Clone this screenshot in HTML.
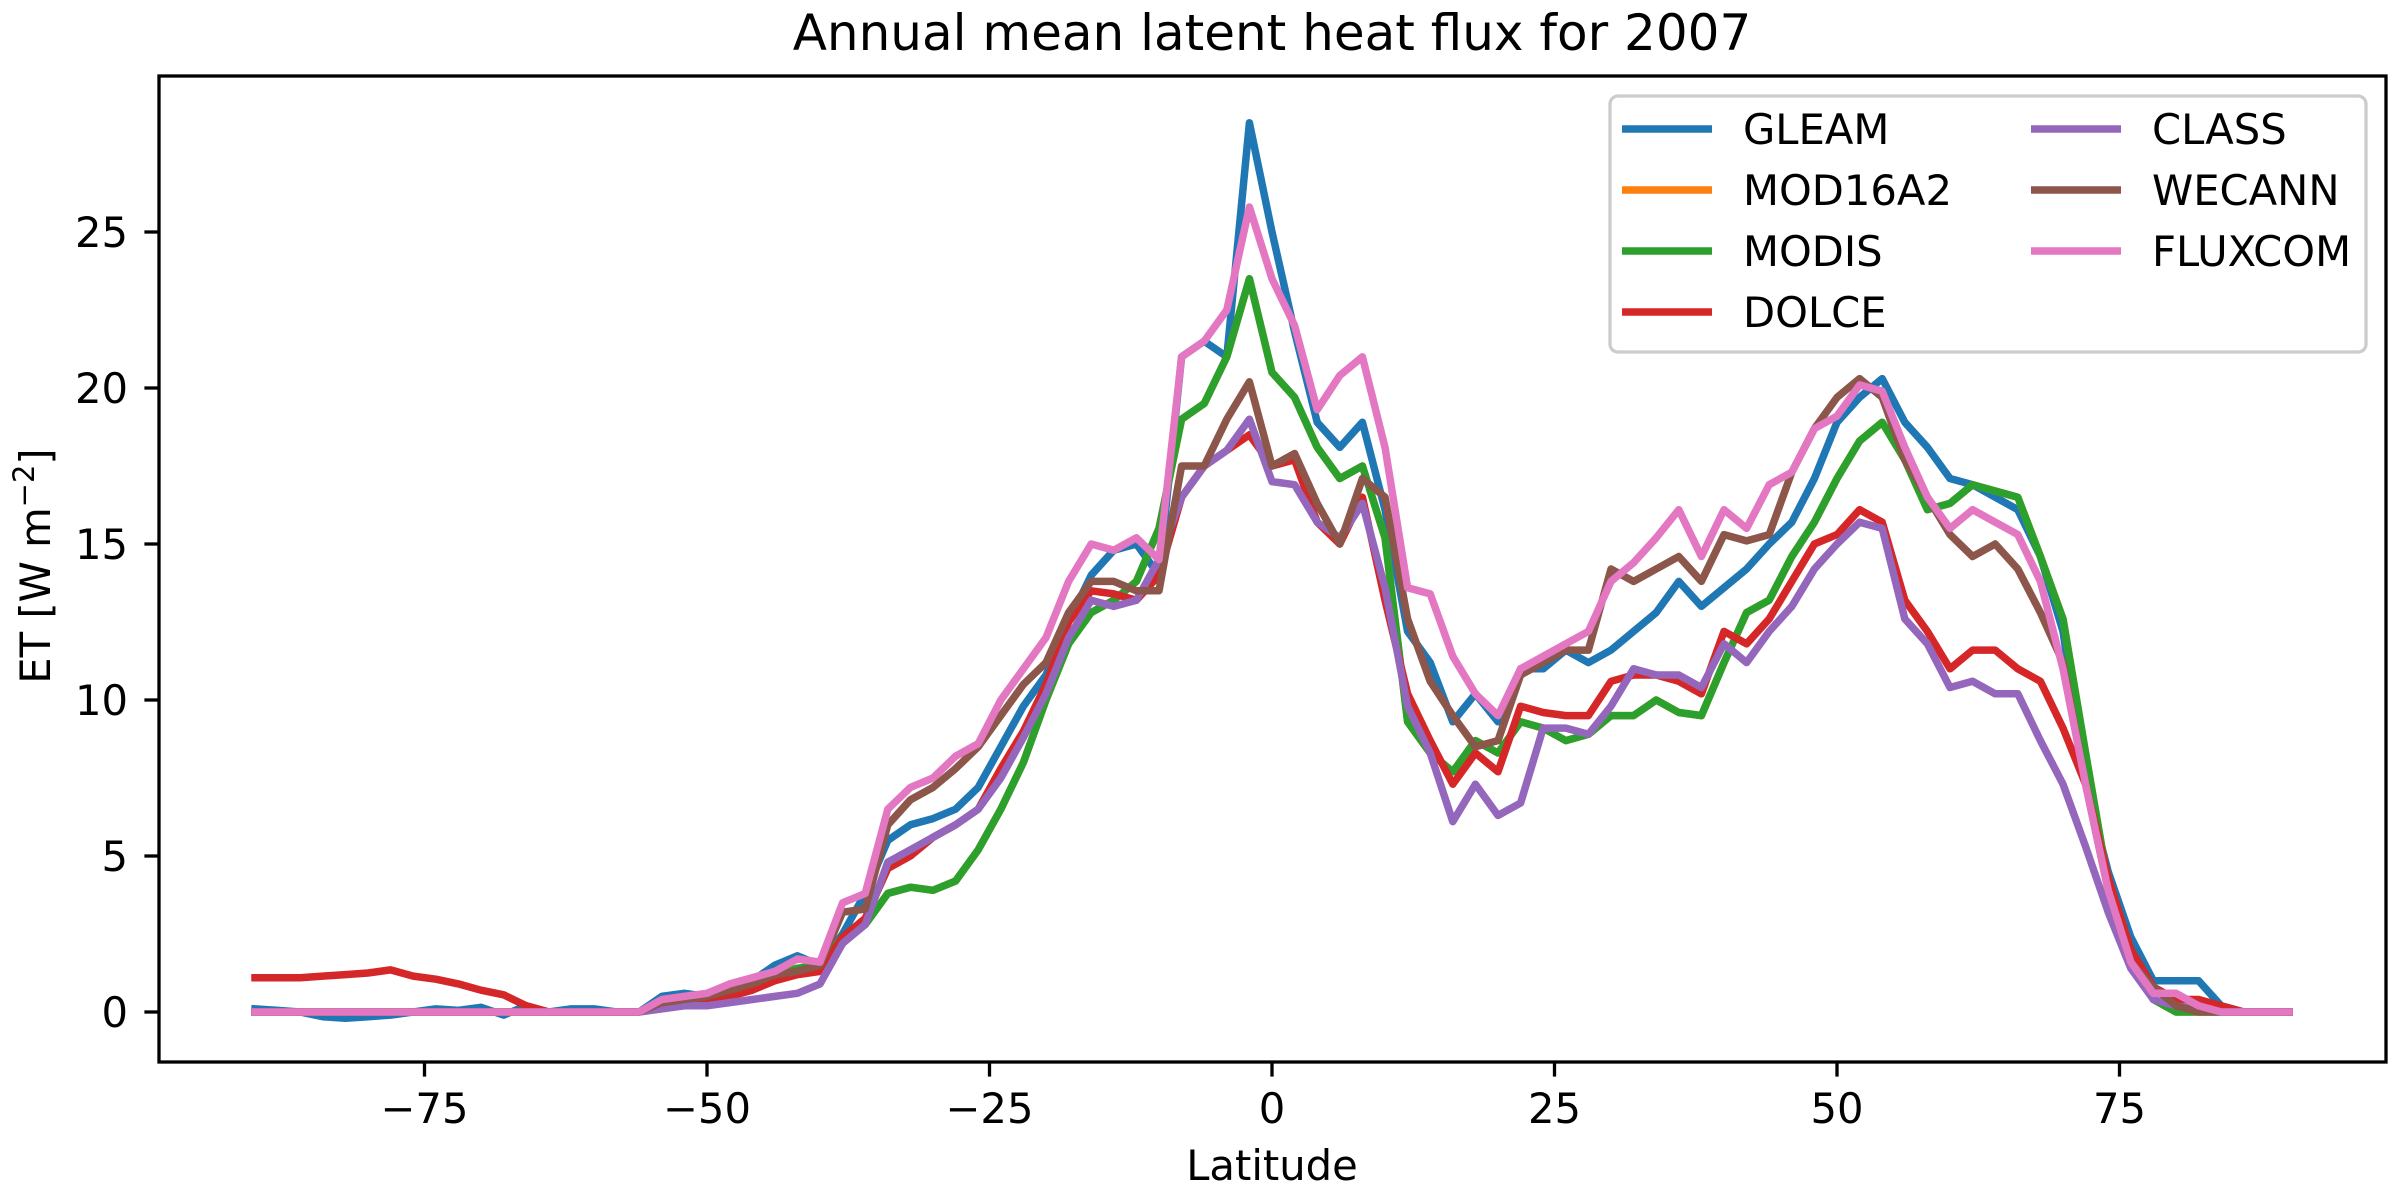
<!DOCTYPE html>
<html>
<head>
<meta charset="utf-8">
<style>
  html,body{margin:0;padding:0;background:#fff;}
  svg{display:block;}
  text{font-family:"DejaVu Sans","Liberation Sans",sans-serif;}
</style>
</head>
<body>
<svg id="chart" width="2400" height="1200" viewBox="0 0 2400 1200" xmlns="http://www.w3.org/2000/svg">
  <rect x="0" y="0" width="2400" height="1200" fill="#fff"/>
  <text x="1272" y="50" font-size="50" text-anchor="middle">Annual mean latent heat flux for 2007</text>
  <g id="plot"></g>
  <g id="axes"></g>
  <text x="1272" y="1180" font-size="41.7" text-anchor="middle">Latitude</text>
  <text transform="translate(50,566) rotate(-90)" font-size="41.7" text-anchor="middle">ET [W m<tspan dy="-16" font-size="29">−2</tspan><tspan dy="16">]</tspan></text>
  <g id="legend"></g>
</svg>
<script>
const lats = [];
for (let l = -90; l <= 90; l += 2) lats.push(l);

const gleam = [0.1,0.05,0,-0.15,-0.2,-0.15,-0.1,0,0.1,0.05,0.15,-0.1,0.2,0,0.1,0.1,0,0,
  0.5,0.6,0.5,0.8,1.0,1.5,1.8,1.5,
  2.5,3.8,5.5,6.0,6.2,6.5,7.2,8.5,9.8,10.8,12.5,14.0,14.8,15.0,14.0,21.0,21.5,21.0,28.5,25.0,
  21.8,18.9,18.1,18.9,16.1,12.2,11.2,9.3,10.2,9.3,11.0,11.0,11.6,11.2,11.6,12.2,12.8,13.8,13.0,13.6,
  14.2,15.0,15.7,17.1,18.9,19.7,20.3,18.9,18.1,17.1,16.9,16.5,16.1,14.6,12.2,7.3,4.5,2.4,1.0,1.0,1.0,0.2,0,0,0];
const modis = [0,0,0,0,0,0,0,0,0,0,0,0,0,0,0,0,0,0,
  0.3,0.4,0.5,0.7,0.9,1.2,1.4,1.5,
  2.4,2.8,3.8,4.0,3.9,4.2,5.2,6.5,8.0,10.0,11.8,12.8,13.2,13.8,15.5,19.0,19.5,21.0,23.5,20.5,
  19.7,18.1,17.1,17.5,15.2,9.3,8.3,7.7,8.7,8.3,9.3,9.1,8.7,8.9,9.5,9.5,10.0,9.6,9.5,11.2,
  12.8,13.2,14.6,15.7,17.1,18.3,18.9,17.7,16.1,16.3,16.9,16.7,16.5,14.6,12.6,8.3,4.1,1.8,0.4,0,0,0,0,0,0];
const mod16a2 = modis.slice();
const dolce = [1.1,1.1,1.1,1.15,1.2,1.25,1.35,1.15,1.05,0.9,0.7,0.55,0.2,0,0,0,0,0,
  0.2,0.3,0.3,0.5,0.7,1.0,1.2,1.3,
  2.4,3.0,4.6,5.0,5.6,6.0,6.5,7.8,9.0,10.5,12.5,13.5,13.4,13.2,14.0,16.5,17.5,18.0,18.5,17.5,
  17.7,15.7,15.0,16.5,13.2,10.2,8.7,7.3,8.3,7.7,9.8,9.6,9.5,9.5,10.6,10.8,10.8,10.6,10.2,12.2,
  11.8,12.6,13.8,15.0,15.3,16.1,15.7,13.2,12.2,11.0,11.6,11.6,11.0,10.6,9.1,7.3,4.3,2.0,0.8,0.4,0.4,0.2,0,0,0];
const classD = [0,0,0,0,0,0,0,0,0,0,0,0,0,0,0,0,0,0,
  0.1,0.2,0.2,0.3,0.4,0.5,0.6,0.9,
  2.2,2.8,4.8,5.2,5.6,6.0,6.5,7.5,8.8,10.2,12.0,13.2,13.0,13.2,14.5,16.5,17.5,18.0,19.0,17.0,
  16.9,15.7,15.2,16.3,13.6,9.8,8.3,6.1,7.3,6.3,6.7,9.1,9.1,8.9,9.8,11.0,10.8,10.8,10.4,11.8,
  11.2,12.2,13.0,14.2,15.0,15.7,15.5,12.6,11.8,10.4,10.6,10.2,10.2,8.7,7.3,5.3,3.2,1.4,0.4,0.2,0.1,0,0,0,0];
const wecann = [0,0,0,0,0,0,0,0,0,0,0,0,0,0,0,0,0,0,
  0.3,0.4,0.5,0.7,0.9,1.2,1.3,1.5,
  3.2,3.3,6.0,6.8,7.2,7.8,8.5,9.5,10.5,11.2,12.8,13.8,13.8,13.5,13.5,17.5,17.5,19.0,20.2,17.5,
  17.9,16.3,15.0,17.1,16.5,12.6,10.6,9.5,8.5,8.7,10.8,11.2,11.6,11.6,14.2,13.8,14.2,14.6,13.8,15.3,
  15.1,15.3,17.3,18.7,19.7,20.3,19.7,17.7,16.5,15.3,14.6,15.0,14.2,12.8,11.2,7.3,3.9,1.6,0.8,0.2,0,0,0,0,0];
const fluxcom = [0,0,0,0,0,0,0,0,0,0,0,0,0,0,0,0,0,0,
  0.4,0.5,0.6,0.9,1.1,1.3,1.7,1.6,
  3.5,3.8,6.5,7.2,7.5,8.2,8.6,10.0,11.0,12.0,13.8,15.0,14.8,15.2,14.5,21.0,21.5,22.5,25.8,23.5,
  22.0,19.3,20.4,21.0,18.1,13.6,13.4,11.4,10.2,9.5,11.0,11.4,11.8,12.2,13.8,14.4,15.2,16.1,14.6,16.1,
  15.5,16.9,17.3,18.7,19.1,20.1,19.9,18.1,16.5,15.5,16.1,15.7,15.3,13.8,11.0,7.3,3.9,1.6,0.6,0.6,0.2,0,0,0,0];

const seriesNames = ["GLEAM","MOD16A2","MODIS","DOLCE","CLASS","WECANN","FLUXCOM"];
const seriesColors = ["#1f77b4","#ff7f0e","#2ca02c","#d62728","#9467bd","#8c564b","#e377c2"];
const seriesData = [gleam, mod16a2, modis, dolce, classD, wecann, fluxcom];
const xTicks = [-75,-50,-25,0,25,50,75];
const yTicks = [0,5,10,15,20,25];

const NS = "http://www.w3.org/2000/svg";
const L = 159, R = 2386, T = 76, B = 1062;
function xs(lat){ return 1272 + lat * 11.3; }
function ys(v){ return 1012 - v * 31.2; }
function mk(tag, attrs, parent){
  const e = document.createElementNS(NS, tag);
  for (const k in attrs) e.setAttribute(k, attrs[k]);
  parent.appendChild(e);
  return e;
}
const plot = document.getElementById("plot");
const axes = document.getElementById("axes");
const legend = document.getElementById("legend");

seriesData.forEach((arr, si) => {
  const d = arr.map((v, i) => (i ? "L" : "M") + xs(lats[i]).toFixed(1) + " " + ys(v).toFixed(1)).join(" ");
  const p = mk("path", {d: d, fill: "none", stroke: seriesColors[si], "stroke-width": 7.5, "stroke-linejoin": "round", "stroke-linecap": "square"}, plot);
  
  
});

const frame = mk("rect", {x: L, y: T, width: R - L, height: B - T, fill: "none", stroke: "#000", "stroke-width": 3.3}, axes);



xTicks.forEach(t => {
  const x = xs(t);
  const tk = mk("line", {x1: x, x2: x, y1: B, y2: B + 14.6, stroke: "#000", "stroke-width": 3.3}, axes);
  
  
  const tx = mk("text", {x: x, y: B + 61, "font-size": 41.7, "text-anchor": "middle"}, axes);
  tx.textContent = t < 0 ? "−" + Math.abs(t) : String(t);
  
  
});
yTicks.forEach(t => {
  const y = ys(t);
  const tk = mk("line", {x1: L - 14.6, x2: L, y1: y, y2: y, stroke: "#000", "stroke-width": 3.3}, axes);
  
  
  const tx = mk("text", {x: 128, y: y + 15, "font-size": 41.7, "text-anchor": "end"}, axes);
  tx.textContent = String(t);
  
  
});

const box = mk("rect", {x: 1610, y: 96, width: 756, height: 256, rx: 8, ry: 8, fill: "#fff", "fill-opacity": 0.8, stroke: "#cccccc", "stroke-width": 3.3}, legend);


seriesNames.forEach((n, i) => {
  const col = i < 4 ? 0 : 1;
  const row = i < 4 ? i : i - 4;
  const y = 129 + row * 61;
  const x0 = col ? 2031 : 1622;
  const ln = mk("line", {x1: x0, x2: x0 + 90, y1: y, y2: y, stroke: seriesColors[i], "stroke-width": 7.5}, legend);
  
  
  const tx = mk("text", {x: x0 + 121, y: y + 15, "font-size": 41.7}, legend);
  tx.textContent = n;
  
  
});
</script>
</body>
</html>
